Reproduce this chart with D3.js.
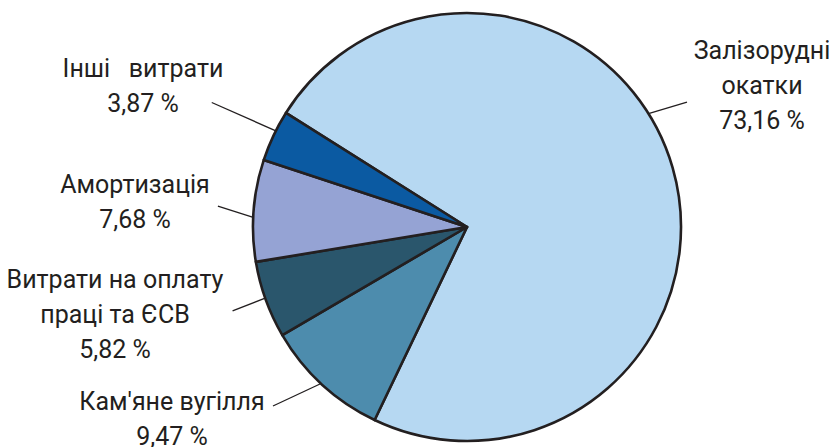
<!DOCTYPE html>
<html>
<head>
<meta charset="utf-8">
<script src="https://cdnjs.cloudflare.com/ajax/libs/d3/7.8.5/d3.min.js"></script>
<style>
  body { margin:0; background:#fff; }
  svg text { font-family:"Roboto","Liberation Sans Narrow","DejaVu Sans Condensed",sans-serif; fill:#231f20; }
</style>
</head>
<body>
<div class="d3-pie"></div>
<script>
var categories = ["Залізорудні окатки","Кам'яне вугілля","Витрати на оплату праці та ЄСВ","Амортизація","Інші витрати"];
var values = [73.16, 9.47, 5.82, 7.68, 3.87];
var labelLines = [
  ["Залізорудні","окатки","73,16 %"],
  ["Кам'яне вугілля","9,47 %"],
  ["Витрати на оплату","праці та ЄСВ","5,82 %"],
  ["Амортизація","7,68 %"],
  ["Інші   витрати","3,87 %"]
];
var colors = ["#b6d8f2","#4d8cad","#2a566c","#95a3d4","#0b5aa2"];

var options = {
  width:829,
  height:447,
  cx:467,
  cy:227,
  radius:214,
  startAngle:-57.8,
  fontSize:25,
  lineHeight:35,
  strokeColor:'#231f20'
};

// label layout: text anchor x, first baseline y, leader inner angle, leader outer angle, outer radius
var labelLayout = [
  {x:762, y:59,  a1:58,    a2:60.4,  r2:253},
  {x:172, y:410, a1:223,   a2:227.3, r2:264},
  {x:115, y:288, a1:250.6, a2:250.3, r2:249},
  {x:135, y:193, a1:272.6, a2:274.8, r2:250},
  {x:143, y:77,  a1:296.7, a2:296,   r2:284}
];

function rad(d){ return d*Math.PI/180; }
function polar(a, r){ return [options.cx + r*Math.sin(rad(a)), options.cy - r*Math.cos(rad(a))]; }

function renderPie(options){
  var svg = d3.select(".d3-pie")
              .append("svg")
                .attr("width",options.width)
                .attr("height",options.height);

  var pie = d3.pie()
              .sort(null)
              .startAngle(rad(options.startAngle))
              .endAngle(rad(options.startAngle+360))
              .value(function(d){ return d; });

  var arc = d3.arc().innerRadius(0).outerRadius(options.radius);

  var g = svg.append("g").attr("transform","translate("+options.cx+","+options.cy+")");
  g.selectAll("path")
    .data(pie(values))
    .enter().append("path")
      .attr("d",arc)
      .style("fill",function(d,i){ return colors[i]; })
      .style("stroke",options.strokeColor)
      .style("stroke-width",2.6)
      .style("stroke-linejoin","round");

  // leader lines
  svg.selectAll("line.leader")
    .data(labelLayout)
    .enter().append("line")
      .attr("class","leader")
      .attr("x1",function(d){ return polar(d.a1, options.radius)[0]; })
      .attr("y1",function(d){ return polar(d.a1, options.radius)[1]; })
      .attr("x2",function(d){ return polar(d.a2, d.r2)[0]; })
      .attr("y2",function(d){ return polar(d.a2, d.r2)[1]; })
      .style("stroke",options.strokeColor)
      .style("stroke-width",1.3);

  // labels
  labelLines.forEach(function(lines,i){
    var l = labelLayout[i];
    var t = svg.append("text")
               .attr("text-anchor","middle")
               .style("font-size",options.fontSize+"px")
               .style("white-space","pre");
    lines.forEach(function(s,j){
      t.append("tspan").attr("x",l.x).attr("y",l.y + j*options.lineHeight).text(s);
    });
  });
  return svg;
}

renderPie(options);
</script>
</body>
</html>
